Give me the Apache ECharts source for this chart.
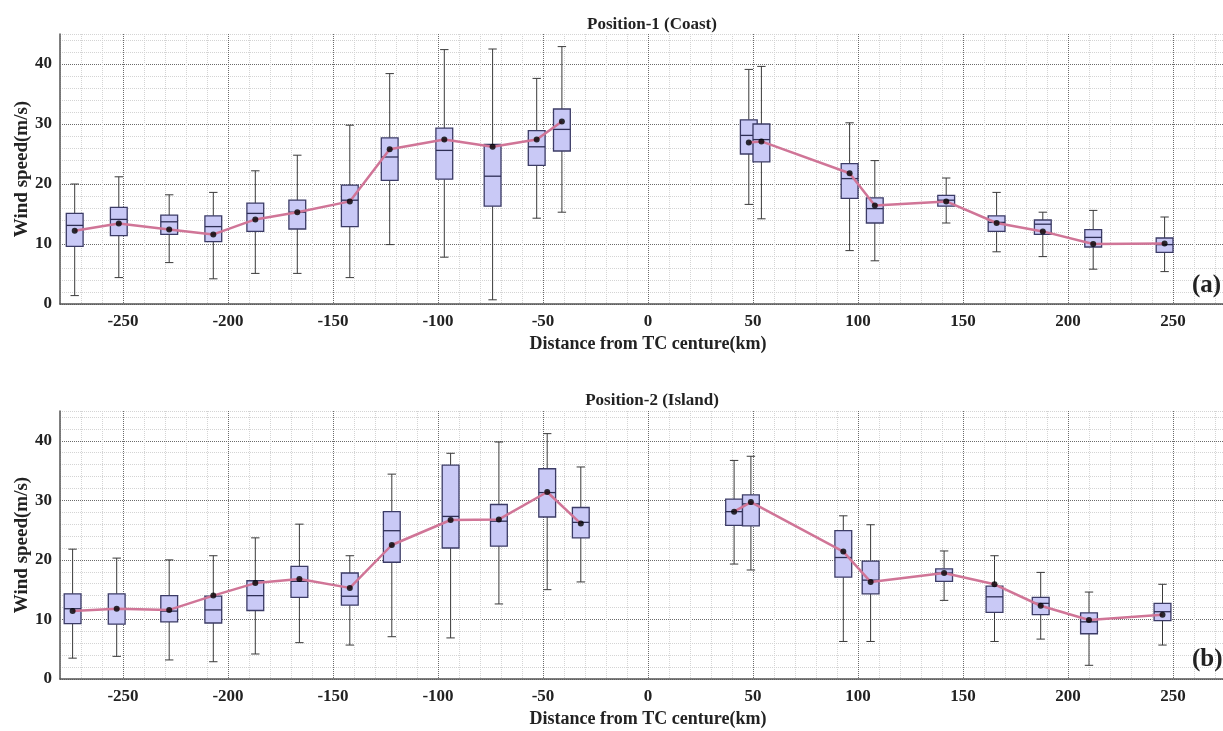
<!DOCTYPE html>
<html>
<head>
<meta charset="utf-8">
<title>Wind speed vs distance from TC center</title>
<script src="https://cdn.jsdelivr.net/npm/echarts@6/dist/echarts.min.js"></script>
<style>
  html, body { margin: 0; padding: 0; background: #fff; }
  #chart { width: 1223px; height: 731px; }
</style>
</head>
<body>
<div id="chart"></div>
<script>
// Position-1 (Coast)
var coastX    = [-273, -252, -228, -207, -187, -167, -142, -123, -97, -74, -53, -41, 48, 54, 96, 108, 142, 166, 188, 212, 246];
var coastMin  = [1.4, 4.4, 6.9, 4.2, 5.1, 5.1, 4.4, 9.9, 7.8, 0.7, 14.3, 15.3, 16.6, 14.2, 8.9, 7.2, 13.5, 8.7, 7.9, 5.8, 5.4];
var coastQ1   = [9.6, 11.4, 11.6, 10.4, 12.1, 12.5, 12.9, 20.6, 20.8, 16.3, 23.1, 25.5, 25.0, 23.7, 17.6, 13.5, 16.3, 12.1, 11.6, 9.5, 8.6];
var coastMed  = [13.1, 14.1, 13.7, 12.9, 15.1, 15.3, 17.3, 24.5, 25.6, 21.3, 26.2, 29.1, 28.1, 27.4, 20.9, 15.9, 17.3, 13.6, 13.3, 11.1, 9.9];
var coastQ3   = [15.1, 16.1, 14.8, 14.7, 16.8, 17.3, 19.8, 27.7, 29.3, 26.6, 28.9, 32.5, 30.7, 30.0, 23.4, 17.7, 18.1, 14.7, 14.0, 12.4, 11.0];
var coastMax  = [20.0, 21.2, 18.2, 18.6, 22.2, 24.8, 29.8, 38.4, 42.4, 42.5, 37.6, 42.9, 39.1, 39.6, 30.2, 23.9, 21.0, 18.6, 15.3, 15.6, 14.5];
var coastMean = [12.2, 13.4, 12.4, 11.6, 14.1, 15.3, 17.1, 25.8, 27.4, 26.2, 27.4, 30.4, 26.9, 27.1, 21.8, 16.4, 17.1, 13.5, 12.1, 10.0, 10.1];

// Position-2 (Island)
var islandX    = [-274, -253, -228, -207, -187, -166, -142, -122, -94, -71, -48, -32, 41, 49, 93, 106, 141, 165, 187, 210, 245];
var islandMin  = [3.5, 3.8, 3.2, 2.9, 4.2, 6.1, 5.7, 7.1, 6.9, 12.6, 15.0, 16.3, 19.3, 18.3, 6.3, 6.3, 13.2, 6.3, 6.7, 2.3, 5.7];
var islandQ1   = [9.3, 9.2, 9.6, 9.4, 11.5, 13.7, 12.4, 19.6, 22.0, 22.3, 27.2, 23.7, 25.8, 25.7, 17.1, 14.3, 16.4, 11.2, 10.8, 7.6, 9.8];
var islandMed  = [11.8, 11.8, 11.4, 11.6, 14.0, 16.4, 13.9, 24.9, 27.3, 26.5, 31.3, 26.3, 28.1, 29.4, 20.4, 16.6, 17.8, 13.8, 12.7, 9.6, 11.3];
var islandQ3   = [14.3, 14.3, 14.0, 13.9, 16.5, 18.9, 17.8, 28.1, 35.9, 29.3, 35.3, 28.8, 30.2, 30.9, 24.9, 19.8, 18.5, 15.6, 13.7, 11.1, 12.7];
var islandMax  = [21.8, 20.3, 20.0, 20.7, 23.7, 26.0, 20.7, 34.4, 37.9, 39.8, 41.2, 35.6, 36.7, 37.4, 27.4, 25.9, 21.5, 20.7, 17.9, 14.6, 15.9];
var islandMean = [11.4, 11.8, 11.6, 14.0, 16.1, 16.8, 15.3, 22.5, 26.7, 26.8, 31.4, 26.1, 28.1, 29.7, 21.4, 16.3, 17.8, 15.9, 12.3, 9.9, 10.8];

var panelTitles = ['Position-1 (Coast)', 'Position-2 (Island)'];
var panelTags = ['(a)', '(b)'];

var FONT = '"Liberation Serif", "Times New Roman", serif';
var BOX_W = 8;   // km
var MAJOR = '#6a6a6a', MINOR = '#d4d4d4';

function boxRows(x, mn, q1, md, q3, mx) {
  return x.map(function (v, i) { return [v, mn[i], q1[i], md[i], q3[i], mx[i]]; });
}
function pairs(x, y) {
  return x.map(function (v, i) { return [v, y[i]]; });
}

function renderBox(params, api) {
  var x = api.value(0);
  var pMin = api.coord([x, api.value(1)]);
  var pQ1 = api.coord([x, api.value(2)]);
  var pMed = api.coord([x, api.value(3)]);
  var pQ3 = api.coord([x, api.value(4)]);
  var pMax = api.coord([x, api.value(5)]);
  var w = api.size([BOX_W, 0])[0];
  var cx = pMed[0];
  var cap = w * 0.25;
  var wl = { stroke: '#3a3a3a', lineWidth: 1 };
  return {
    type: 'group',
    children: [
      { type: 'line', shape: { x1: cx, y1: pMax[1], x2: cx, y2: pQ3[1] }, style: wl },
      { type: 'line', shape: { x1: cx, y1: pQ1[1], x2: cx, y2: pMin[1] }, style: wl },
      { type: 'line', shape: { x1: cx - cap, y1: pMax[1], x2: cx + cap, y2: pMax[1] }, style: wl },
      { type: 'line', shape: { x1: cx - cap, y1: pMin[1], x2: cx + cap, y2: pMin[1] }, style: wl },
      { type: 'rect', shape: { x: cx - w / 2, y: pQ3[1], width: w, height: pQ1[1] - pQ3[1] },
        style: { fill: '#c9c9f6', stroke: '#3b3b66', lineWidth: 1.3 } },
      { type: 'line', shape: { x1: cx - w / 2, y1: pMed[1], x2: cx + w / 2, y2: pMed[1] },
        style: { stroke: '#2e2e55', lineWidth: 1.3 } }
    ]
  };
}

// plot runs past the right edge of the picture, as in the original figure
var grids = [
  { left: 60, top: 34, width: 1176, height: 270, outerBoundsMode: 'none' },
  { left: 60, top: 411, width: 1176, height: 268, outerBoundsMode: 'none' }
];

function xAxisFor(i) {
  return {
    gridIndex: i, type: 'value', min: -280, max: 280, interval: 10,
    name: 'Distance from TC centure(km)', nameLocation: 'middle', nameGap: 31, nameMoveOverlap: false,
    nameTextStyle: { fontFamily: FONT, fontWeight: 'bold', fontSize: 18, color: '#222' },
    axisLine: { show: true, onZero: false, lineStyle: { color: '#555', width: 1.5 } },
    axisTick: { show: false },
    axisLabel: {
      margin: 9, fontFamily: FONT, fontWeight: 'bold', fontSize: 17, color: '#222',
      formatter: function (v) { return v % 50 === 0 ? String(v) : ''; }
    },
    splitLine: { show: true, lineStyle: { type: 'dotted', width: 1, color: [MINOR, MINOR, MINOR, MAJOR, MINOR] } }
  };
}
function yAxisFor(i) {
  return {
    gridIndex: i, type: 'value', min: 0, max: 45, interval: 2,
    name: 'Wind speed(m/s)', nameLocation: 'middle', nameGap: 28, nameMoveOverlap: false,
    nameTextStyle: { fontFamily: FONT, fontWeight: 'bold', fontSize: 19, color: '#222' },
    axisLine: { show: true, onZero: false, lineStyle: { color: '#555', width: 1.5 } },
    axisTick: { show: false },
    axisLabel: {
      margin: 8, fontFamily: FONT, fontWeight: 'bold', fontSize: 17, color: '#222',
      formatter: function (v) { return v % 10 === 0 ? String(v) : ''; }
    },
    splitLine: { show: true, lineStyle: { type: 'dotted', width: 1, color: [MAJOR, MINOR, MINOR, MINOR, MINOR] } }
  };
}

var panels = [
  { x: coastX, mn: coastMin, q1: coastQ1, md: coastMed, q3: coastQ3, mx: coastMax, mean: coastMean },
  { x: islandX, mn: islandMin, q1: islandQ1, md: islandMed, q3: islandQ3, mx: islandMax, mean: islandMean }
];

var series = [];
panels.forEach(function (p, i) {
  var pts = pairs(p.x, p.mean);
  series.push({
    type: 'custom', xAxisIndex: i, yAxisIndex: i, renderItem: renderBox,
    data: boxRows(p.x, p.mn, p.q1, p.md, p.q3, p.mx), z: 2, silent: true
  });
  [pts.filter(function (d) { return d[0] < 0; }), pts.filter(function (d) { return d[0] > 0; })].forEach(function (seg) {
    series.push({
      type: 'line', xAxisIndex: i, yAxisIndex: i, data: seg, z: 3,
      showSymbol: false, lineStyle: { color: '#d07597', width: 2.5 }, silent: true
    });
  });
  series.push({
    type: 'scatter', xAxisIndex: i, yAxisIndex: i, data: pts, z: 4,
    symbolSize: 6, itemStyle: { color: '#000' }, silent: true
  });
});

var titles = [];
panelTitles.forEach(function (t, i) {
  titles.push({
    text: t, left: 647, top: i === 0 ? 11 : 387, textAlign: 'center',
    textStyle: { fontFamily: FONT, fontWeight: 'bold', fontSize: 17, color: '#222' }
  });
  titles.push({
    text: panelTags[i], left: 1187, top: i === 0 ? 268 : 642,
    textStyle: { fontFamily: FONT, fontWeight: 'bold', fontSize: 25, color: '#222' }
  });
});

var chart = echarts.init(document.getElementById('chart'));
chart.setOption({
  animation: false,
  backgroundColor: '#fff',
  title: titles,
  grid: grids,
  xAxis: [xAxisFor(0), xAxisFor(1)],
  yAxis: [yAxisFor(0), yAxisFor(1)],
  series: series
});
</script>
</body>
</html>
